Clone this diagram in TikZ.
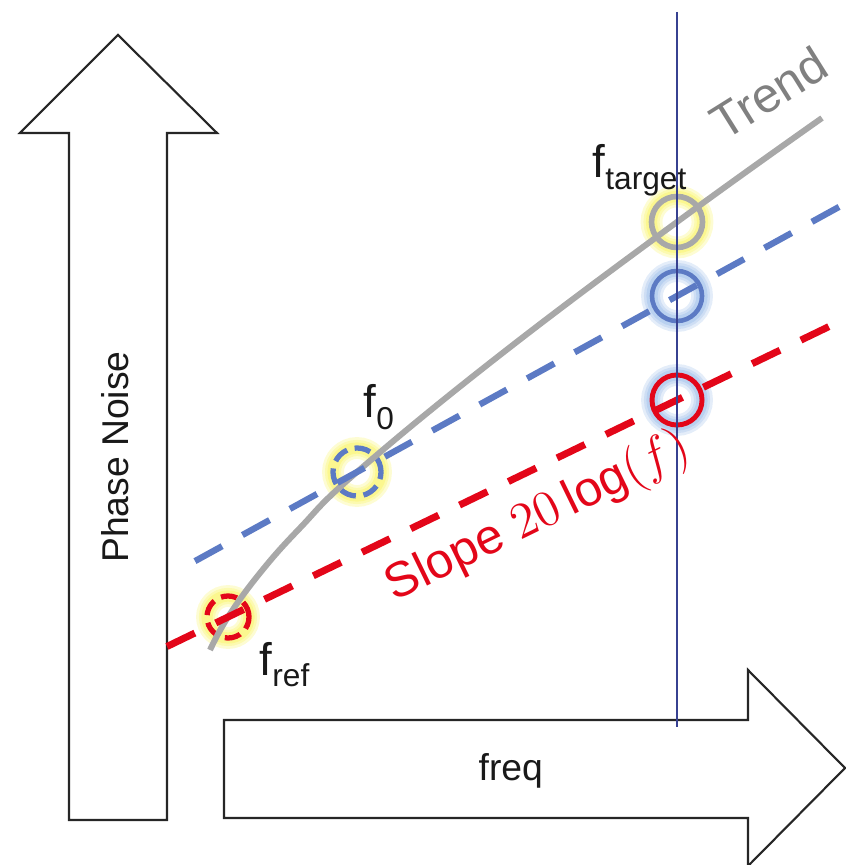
\documentclass[tikz,border=0pt]{standalone}
\usepackage{fontspec}
\setmainfont{Liberation Sans}
\usetikzlibrary{positioning}
\definecolor{noiseRed}{RGB}{227,6,25}
\definecolor{noiseBlue}{RGB}{92,122,196}
\definecolor{trendGray}{RGB}{168,168,168}
\definecolor{trendText}{RGB}{128,128,128}
\definecolor{markBlue}{RGB}{55,65,145}
\definecolor{glowYel}{RGB}{250,245,110}
\definecolor{glowBlu}{RGB}{165,195,235}
\tikzset{
  bigarrow/.style  = {draw=black!85, line width=0.6pt, fill=white},
  axislabel/.style = {inner sep=0pt, text=black!90,
                      font=\fontsize{10.6}{12}\selectfont},
  flabel/.style    = {anchor=base west, inner sep=0pt, text=black!90},
  redline/.style   = {draw=noiseRed, line width=2pt,
                      dash pattern=on 8.8pt off 6.6pt},
  blueline/.style  = {draw=noiseBlue, line width=1.8pt,
                      dash pattern=on 8.8pt off 6.6pt},
  trend/.style     = {draw=trendGray, line width=1.7pt},
  markline/.style  = {draw=markBlue, line width=0.35pt},
  ring/.style      = {circle, inner sep=0pt, line width=1.3pt},
  ringdash/.style  = {dash pattern=on 4.6pt off 2.2pt},
  glow/.style      = {preaction={draw=#1, solid, line width=6.2pt, draw opacity=.3},
                      preaction={draw=#1, solid, line width=4.6pt, draw opacity=.35},
                      preaction={draw=#1, solid, line width=3.2pt, draw opacity=.5}}
}
\newcommand{\fsub}[1]{{\fontsize{13}{15}\selectfont f}%
  \raisebox{-3.4pt}{\fontsize{9}{11}\selectfont #1}}

\begin{document}
\begin{tikzpicture}[x=0.01cm, y=-0.01cm]
  \useasboundingbox (0,0) rectangle (845,865);

  %% -- Axis arrows ------------------------------------------------
  \draw[bigarrow] (69,820) -- (69,133) -- (20,133) -- (118,35)
    -- (217,133) -- (167,133) -- (167,820) -- cycle;
  \draw[bigarrow] (224,720) -- (748,720) -- (748,670) -- (845,768)
    -- (748,866) -- (748,818) -- (224,818) -- cycle;
  \node[axislabel, rotate=90, anchor=base] (pnLabel) at (128,457) {Phase Noise};
  \node[axislabel, anchor=base west] (freqLabel) at (478,780) {freq};

  %% -- Rings ------------------------------------------------------
  \node[ring, ringdash, minimum size=0.42cm, draw=noiseRed, line width=1.5pt,
        glow=glowYel] (fref) at (228,617) {};
  \node[ring, ringdash, minimum size=0.48cm, draw=noiseBlue, line width=1.5pt,
        glow=glowYel] (fzero) at (357,472) {};
  \node[ring, minimum size=0.51cm, draw=trendGray, line width=1.6pt,
        glow=glowYel] (tgtGray) at (677,222) {};
  \node[ring, minimum size=0.50cm, draw=noiseBlue, line width=1.3pt,
        glow=glowBlu] (tgtBlue) at (677,296) {};
  \node[ring, minimum size=0.50cm, draw=noiseRed, line width=1.4pt,
        glow=glowBlu] (tgtRed) at (677,400) {};

  %% -- Trend and slopes -------------------------------------------
  \draw[trend] plot[smooth, tension=0.7] coordinates {(210,650) (fref.center)
    (260,573) (300,528) (fzero.center) (500,355) (tgtGray.center) (822,118)};
  \coordinate (blueStart) at (195,561.1);
  \coordinate (blueEnd)   at (850,200.9);
  \draw[blueline] (blueStart) -- (fzero.center) -- (tgtBlue.center) -- (blueEnd);
  \coordinate (redStart) at (167,646.5);
  \coordinate (redEnd)   at (850,316.4);
  \draw[redline] (redStart) -- (fref.center) -- (tgtRed.center) -- (redEnd);

  %% -- Target marker ----------------------------------------------
  \coordinate (markTop) at (677,12);
  \coordinate (markBot) at (677,727);
  \draw[markline] (markTop) -- (markBot);

  %% -- Labels -----------------------------------------------------
  \node[flabel] (frefLabel) at (259,675) {\fsub{ref}};
  \node[flabel] (fzeroLabel) at (363,418) {\fsub{0}};
  \node[flabel] (tgtLabel) at (592,178) {\fsub{target}};
  \node[anchor=base west, rotate=32, inner sep=0pt, text=trendText,
        font=\fontsize{14}{16}\selectfont] (trendLabel) at (724,142) {Trend};
  \node[anchor=base west, rotate=26, inner sep=0pt, text=noiseRed,
        font=\fontsize{14}{16}\selectfont] (slopeLabel) at (394,602)
        {Slope $20\log(f)$};

\end{tikzpicture}
\end{document}
